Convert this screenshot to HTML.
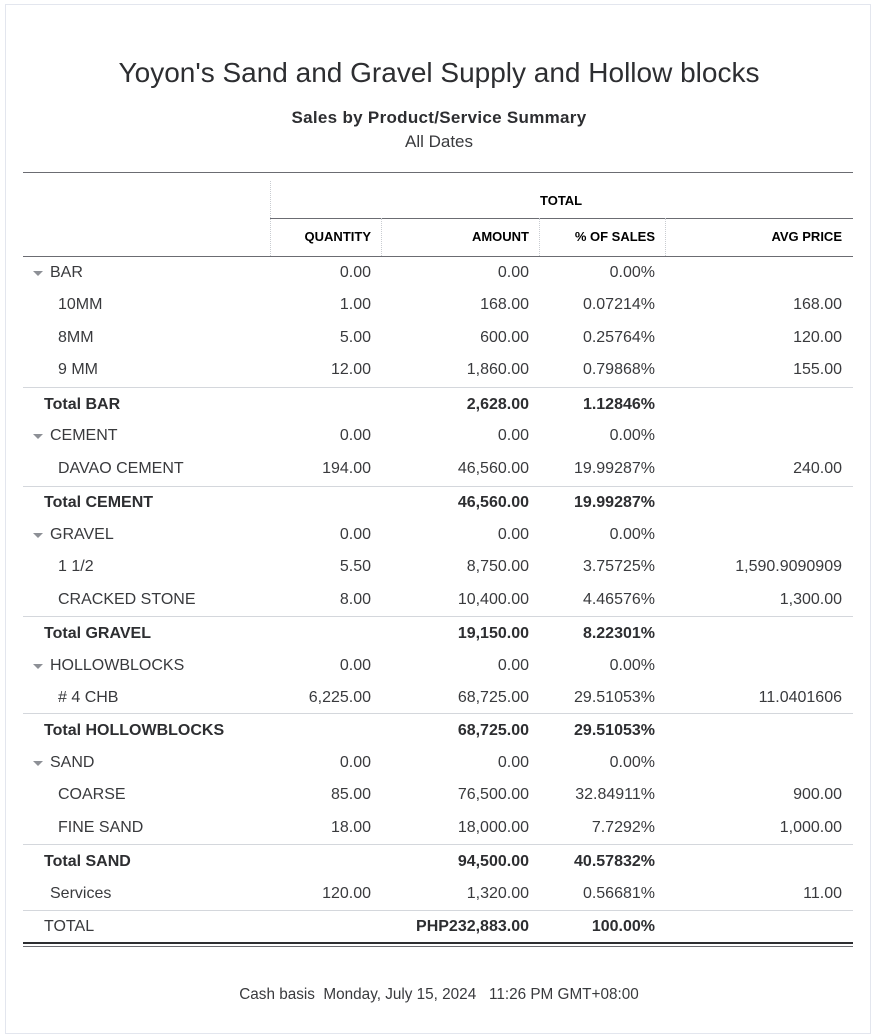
<!DOCTYPE html>
<html><head><meta charset="utf-8"><style>
body{margin:0;background:#fff;width:878px;height:1028px;position:relative;overflow:hidden;font-family:"Liberation Sans",sans-serif;color:#393a3d}
.frame{position:absolute;left:5px;top:4px;width:866px;height:1030px;border:1px solid #e3e6ee;box-sizing:border-box}
.t{position:absolute;white-space:nowrap;font-size:16px;line-height:18px;letter-spacing:0;margin-top:1px}
.r{text-align:right}
.b{font-weight:bold;color:#2d2e31}
.h{font-size:13px;font-weight:bold;color:#000;letter-spacing:0}
.line{position:absolute;height:1px;background:#d4d7dc}
.v{position:absolute;width:0;border-left:1px dotted #c9ccd1}
.tri{position:absolute;width:0;height:0;border-left:5px solid transparent;border-right:5px solid transparent;border-top:5px solid #8d9096;margin-top:1px}
</style></head><body>
<div class="frame"></div>
<div class="t" style="left:0;width:878px;text-align:center;top:56px;font-size:28px;line-height:32px;color:#2d2e31">Yoyon's Sand and Gravel Supply and Hollow blocks</div>
<div class="t b" style="left:0;width:878px;text-align:center;top:108px;font-size:17px;letter-spacing:0.3px">Sales by Product/Service Summary</div>
<div class="t" style="left:0;width:878px;text-align:center;top:132px;font-size:17px">All Dates</div>

<div class="line" style="left:23px;width:830px;top:172px;background:#6b6c72"></div>
<div class="v" style="left:270px;top:181px;height:75px"></div>
<div class="t h" style="left:540px;top:191px">TOTAL</div>
<div class="line" style="left:270px;width:583px;top:218px;background:#6b6c72"></div>
<div class="v" style="left:381px;top:218px;height:38px"></div>
<div class="v" style="left:539px;top:218px;height:38px"></div>
<div class="v" style="left:665px;top:218px;height:38px"></div>
<div class="t h r" style="right:507px;top:227px">QUANTITY</div>
<div class="t h r" style="right:349px;top:227px">AMOUNT</div>
<div class="t h r" style="right:223px;top:227px">% OF SALES</div>
<div class="t h r" style="right:36px;top:227px">AVG PRICE</div>
<div class="line" style="left:23px;width:830px;top:256px;background:#6b6c72"></div>

<div class="tri" style="left:33px;top:270px"></div><div class="t" style="left:50px;top:263px">BAR</div><div class="t r" style="right:507px;top:263px">0.00</div><div class="t r" style="right:349px;top:263px">0.00</div><div class="t r" style="right:223px;top:263px">0.00%</div>
<div class="t" style="left:58px;top:295px">10MM</div><div class="t r" style="right:507px;top:295px">1.00</div><div class="t r" style="right:349px;top:295px">168.00</div><div class="t r" style="right:223px;top:295px">0.07214%</div><div class="t r" style="right:36px;top:295px">168.00</div>
<div class="t" style="left:58px;top:328px">8MM</div><div class="t r" style="right:507px;top:328px">5.00</div><div class="t r" style="right:349px;top:328px">600.00</div><div class="t r" style="right:223px;top:328px">0.25764%</div><div class="t r" style="right:36px;top:328px">120.00</div>
<div class="t" style="left:58px;top:360px">9 MM</div><div class="t r" style="right:507px;top:360px">12.00</div><div class="t r" style="right:349px;top:360px">1,860.00</div><div class="t r" style="right:223px;top:360px">0.79868%</div><div class="t r" style="right:36px;top:360px">155.00</div>
<div class="line" style="left:23px;width:830px;top:387px"></div>
<div class="t b" style="left:44px;top:395px">Total BAR</div><div class="t b r" style="right:349px;top:395px">2,628.00</div><div class="t b r" style="right:223px;top:395px">1.12846%</div>

<div class="tri" style="left:33px;top:433px"></div><div class="t" style="left:50px;top:426px">CEMENT</div><div class="t r" style="right:507px;top:426px">0.00</div><div class="t r" style="right:349px;top:426px">0.00</div><div class="t r" style="right:223px;top:426px">0.00%</div>
<div class="t" style="left:58px;top:459px">DAVAO CEMENT</div><div class="t r" style="right:507px;top:459px">194.00</div><div class="t r" style="right:349px;top:459px">46,560.00</div><div class="t r" style="right:223px;top:459px">19.99287%</div><div class="t r" style="right:36px;top:459px">240.00</div>
<div class="line" style="left:23px;width:830px;top:486px"></div>
<div class="t b" style="left:44px;top:493px">Total CEMENT</div><div class="t b r" style="right:349px;top:493px">46,560.00</div><div class="t b r" style="right:223px;top:493px">19.99287%</div>

<div class="tri" style="left:33px;top:532px"></div><div class="t" style="left:50px;top:525px">GRAVEL</div><div class="t r" style="right:507px;top:525px">0.00</div><div class="t r" style="right:349px;top:525px">0.00</div><div class="t r" style="right:223px;top:525px">0.00%</div>
<div class="t" style="left:58px;top:557px">1 1/2</div><div class="t r" style="right:507px;top:557px">5.50</div><div class="t r" style="right:349px;top:557px">8,750.00</div><div class="t r" style="right:223px;top:557px">3.75725%</div><div class="t r" style="right:36px;top:557px">1,590.9090909</div>
<div class="t" style="left:58px;top:590px">CRACKED STONE</div><div class="t r" style="right:507px;top:590px">8.00</div><div class="t r" style="right:349px;top:590px">10,400.00</div><div class="t r" style="right:223px;top:590px">4.46576%</div><div class="t r" style="right:36px;top:590px">1,300.00</div>
<div class="line" style="left:23px;width:830px;top:616px"></div>
<div class="t b" style="left:44px;top:624px">Total GRAVEL</div><div class="t b r" style="right:349px;top:624px">19,150.00</div><div class="t b r" style="right:223px;top:624px">8.22301%</div>

<div class="tri" style="left:33px;top:663px"></div><div class="t" style="left:50px;top:656px">HOLLOWBLOCKS</div><div class="t r" style="right:507px;top:656px">0.00</div><div class="t r" style="right:349px;top:656px">0.00</div><div class="t r" style="right:223px;top:656px">0.00%</div>
<div class="t" style="left:58px;top:688px"># 4 CHB</div><div class="t r" style="right:507px;top:688px">6,225.00</div><div class="t r" style="right:349px;top:688px">68,725.00</div><div class="t r" style="right:223px;top:688px">29.51053%</div><div class="t r" style="right:36px;top:688px">11.0401606</div>
<div class="line" style="left:23px;width:830px;top:713px"></div>
<div class="t b" style="left:44px;top:721px">Total HOLLOWBLOCKS</div><div class="t b r" style="right:349px;top:721px">68,725.00</div><div class="t b r" style="right:223px;top:721px">29.51053%</div>

<div class="tri" style="left:33px;top:760px"></div><div class="t" style="left:50px;top:753px">SAND</div><div class="t r" style="right:507px;top:753px">0.00</div><div class="t r" style="right:349px;top:753px">0.00</div><div class="t r" style="right:223px;top:753px">0.00%</div>
<div class="t" style="left:58px;top:785px">COARSE</div><div class="t r" style="right:507px;top:785px">85.00</div><div class="t r" style="right:349px;top:785px">76,500.00</div><div class="t r" style="right:223px;top:785px">32.84911%</div><div class="t r" style="right:36px;top:785px">900.00</div>
<div class="t" style="left:58px;top:818px">FINE SAND</div><div class="t r" style="right:507px;top:818px">18.00</div><div class="t r" style="right:349px;top:818px">18,000.00</div><div class="t r" style="right:223px;top:818px">7.7292%</div><div class="t r" style="right:36px;top:818px">1,000.00</div>
<div class="line" style="left:23px;width:830px;top:844px"></div>
<div class="t b" style="left:44px;top:852px">Total SAND</div><div class="t b r" style="right:349px;top:852px">94,500.00</div><div class="t b r" style="right:223px;top:852px">40.57832%</div>

<div class="t" style="left:50px;top:884px">Services</div><div class="t r" style="right:507px;top:884px">120.00</div><div class="t r" style="right:349px;top:884px">1,320.00</div><div class="t r" style="right:223px;top:884px">0.56681%</div><div class="t r" style="right:36px;top:884px">11.00</div>
<div class="line" style="left:23px;width:830px;top:910px"></div>
<div class="t" style="left:44px;top:917px">TOTAL</div><div class="t b r" style="right:349px;top:917px">PHP232,883.00</div><div class="t b r" style="right:223px;top:917px">100.00%</div>
<div class="line" style="left:23px;width:830px;top:942px;height:2px;background:#2d2e31"></div>
<div class="line" style="left:23px;width:830px;top:946px;background:#6b6c72"></div>

<div class="t" style="left:0;width:878px;text-align:center;top:985px;font-size:15.3px">Cash basis&nbsp;&nbsp;Monday, July 15, 2024&nbsp;&nbsp;&nbsp;11:26 PM GMT+08:00</div>
</body></html>
